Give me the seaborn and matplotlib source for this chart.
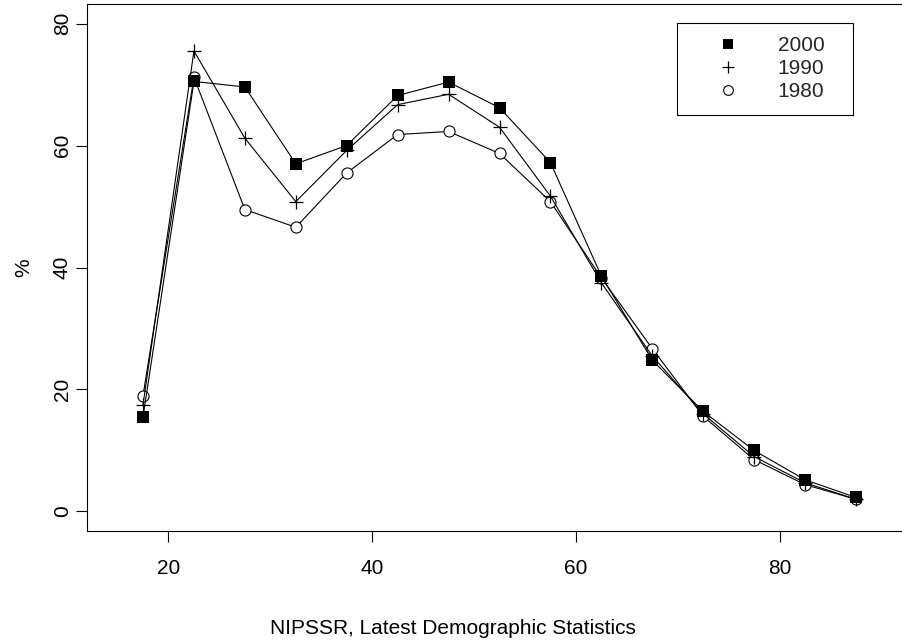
import matplotlib
matplotlib.use("Agg")
import matplotlib.pyplot as plt
from matplotlib.lines import Line2D
from matplotlib.patches import Rectangle
import seaborn as sns
import pandas as pd

ages = [17.5, 22.5, 27.5, 32.5, 37.5, 42.5, 47.5, 52.5, 57.5, 62.5, 67.5, 72.5, 77.5, 82.5, 87.5]
y2000 = [15.5, 70.5, 69.6, 57.0, 60.0, 68.2, 70.4, 66.2, 57.2, 38.6, 24.8, 16.4, 10.0, 5.2, 2.3]
y1990 = [17.5, 75.5, 61.2, 50.8, 59.2, 66.7, 68.4, 63.0, 51.7, 37.5, 25.5, 16.0, 9.0, 4.7, 2.0]
y1980 = [19.0, 71.2, 49.5, 46.6, 55.5, 61.8, 62.3, 58.7, 50.8, 38.3, 26.7, 15.6, 8.5, 4.4, 2.0]
years = ["2000", "1990", "1980"]
xticks = [20, 40, 60, 80]
yticks = [0, 20, 40, 60, 80]
xlabel = "NIPSSR, Latest Demographic Statistics"
ylabel = "%"

sns.set_style("ticks")
plt.rcParams["font.family"] = ["Liberation Sans", "DejaVu Sans"]
FS = 15

fig = plt.figure(figsize=(9.03, 6.43), dpi=100)
ax = fig.add_axes([87 / 903, 1 - 531 / 643, 825 / 903, 527 / 643])

df = pd.DataFrame({"age": ages, "y2000": y2000, "y1990": y1990, "y1980": y1980})

sns.lineplot(data=df, x="age", y="y1980", ax=ax, color="black", linewidth=0.8,
             marker="o", markersize=8, markerfacecolor="white",
             markeredgecolor="black", markeredgewidth=0.8)
sns.lineplot(data=df, x="age", y="y1990", ax=ax, color="black", linewidth=0.8,
             marker="+", markersize=10, markeredgecolor="black", markeredgewidth=0.9)
sns.lineplot(data=df, x="age", y="y2000", ax=ax, color="black", linewidth=0.8,
             marker="s", markersize=8, markerfacecolor="black",
             markeredgecolor="black", markeredgewidth=0)

ax.set_xlim(12, 93)
ax.set_ylim(-3.2, 83.2)
ax.set_xticks(xticks)
ax.set_yticks(yticks)
ax.set_xticklabels([str(t) for t in xticks])
ax.set_yticklabels([str(t) for t in yticks])
for s in ax.spines.values():
    s.set_color("black")
    s.set_linewidth(0.8)
ax.tick_params(axis="both", direction="out", length=8, width=0.8, colors="black",
               labelsize=FS, labelcolor="black")
ax.tick_params(axis="x", pad=12)
ax.tick_params(axis="y", pad=3, labelrotation=90)
for lab in ax.get_yticklabels():
    lab.set_va("center")

ax.set_xlabel(xlabel, fontsize=FS, color="black")
ax.set_ylabel(ylabel, fontsize=FS, color="black")
ax.xaxis.set_label_coords((453 - 87) / 825, (531 - 628) / 527)
ax.xaxis.label.set_va("center")
ax.yaxis.set_label_coords((24 - 87) / 825, (531 - 268) / 527)
ax.yaxis.label.set_va("center")

handles = [
    Line2D([], [], marker="s", linestyle="none", color="black", markersize=7, markeredgewidth=0),
    Line2D([], [], marker="+", linestyle="none", color="black", markersize=9, markeredgewidth=0.9),
    Line2D([], [], marker="o", linestyle="none", color="black", markerfacecolor="white",
           markersize=7, markeredgewidth=0.8),
]
leg = fig.legend(handles, years, loc="upper left",
                 bbox_to_anchor=(707 / 903, 1 - 36 / 643), frameon=False,
                 fontsize=FS, borderpad=0, borderaxespad=0, handlelength=2,
                 handletextpad=1.4, labelspacing=0.2)
fig.patches.append(Rectangle((677 / 903, 1 - 115 / 643), 176 / 903, 92 / 643,
                             transform=fig.transFigure, fill=False,
                             edgecolor="black", linewidth=0.8))

fig.savefig("out.png", dpi=100, facecolor="white")
